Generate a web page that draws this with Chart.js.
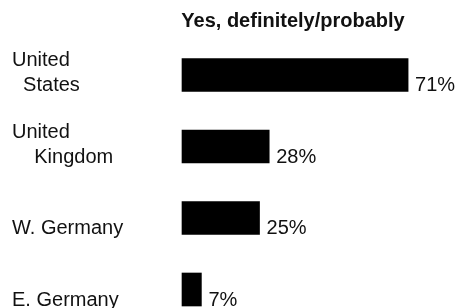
<!DOCTYPE html>
<html>
<head>
<meta charset="utf-8">
<title>Yes, definitely/probably</title>
<script src="https://cdn.jsdelivr.net/npm/chart.js@4/dist/chart.umd.min.js"></script>
<style>
    html, body { margin: 0; padding: 0; background: #fff; }
    #surveyChart { display: block; }
</style>
</head>
<body>
<canvas id="surveyChart" width="457" height="308"></canvas>
<script>
// survey chart - share answering yes, by country

const seriesTitle = 'Yes, definitely/probably';
const countries = [
    ['United', '  States'],
    ['United', '    Kingdom'],
    ['W. Germany'],
    ['E. Germany']
];
const yesShares = [71, 28, 25, 7];

const FONT = '"Liberation Sans", Arial, Helvetica, sans-serif';
const INK = '#111';

// Draw title, country names and value labels next to each bar
const barTextPlugin = {
    id: 'barText',
    afterDatasetsDraw(chart) {
        const ctx = chart.ctx;
        const meta = chart.getDatasetMeta(0);

        ctx.save();
        ctx.fillStyle = INK;
        ctx.textBaseline = 'alphabetic';

        // title over the bars
        ctx.font = 'bold 20px ' + FONT;
        ctx.textAlign = 'center';
        ctx.fillText(seriesTitle, 293, 27);

        ctx.font = '20px ' + FONT;
        meta.data.forEach((bar, i) => {
            const bottom = bar.y + bar.height / 2 - 0.5;

            // value at the end of the bar
            ctx.textAlign = 'left';
            ctx.fillText(yesShares[i] + '%', bar.x + 7, bottom);

            // country name, last line sits on the bar's bottom
            const lines = countries[i];
            lines.forEach((line, j) => {
                const y = bottom - (lines.length - 1 - j) * 24.7;
                ctx.fillText(line, 12, y);
            });
        });
        ctx.restore();
    }
};

function renderChart() {
    const ctx = document.getElementById('surveyChart');

    new Chart(ctx, {
        type: 'bar',
        data: {
            labels: countries,
            datasets: [{
                label: seriesTitle,
                data: yesShares,
                backgroundColor: '#000',
                borderWidth: 0,
                barThickness: 33,
                base: 1,
                clip: false
            }]
        },
        options: {
            indexAxis: 'y',
            responsive: false,
            animation: false,
            layout: {
                padding: { left: 182, right: 16.6, top: 75, bottom: 18.5 }
            },
            scales: {
                x: { display: false, min: 1, max: 81 },
                y: { display: false, offset: false }
            },
            plugins: {
                legend: { display: false },
                title: { display: false },
                tooltip: { enabled: false }
            }
        },
        plugins: [barTextPlugin]
    });
}

renderChart();
</script>
</body>
</html>
